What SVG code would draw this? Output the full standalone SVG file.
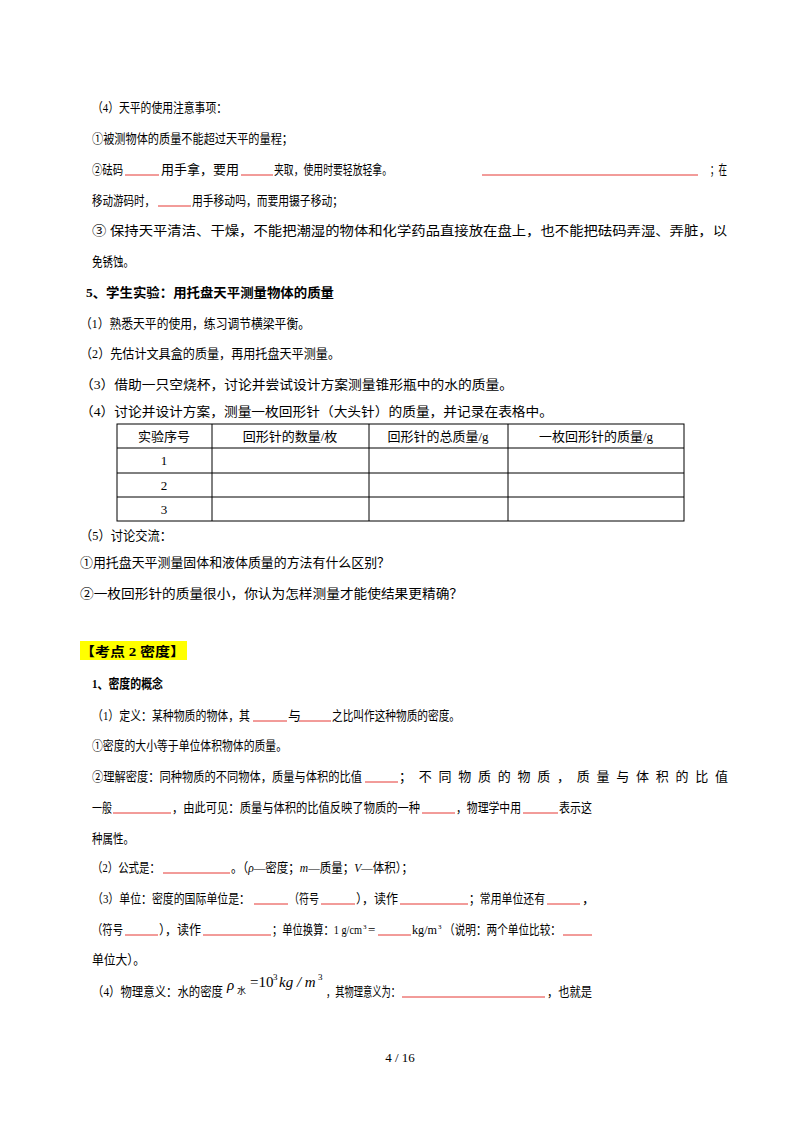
<svg xmlns="http://www.w3.org/2000/svg" width="800" height="1132" viewBox="0 0 800 1132">
<style>
text{font-family:"Liberation Serif","Noto Sans CJK SC",serif;font-size:13px;fill:#000}
.b{font-weight:bold}
.u{stroke:#e53935;stroke-width:1}
.t{stroke:#000;stroke-width:1;fill:none}
.c{text-anchor:middle}
.sup{font-size:7px}
.sup2{font-size:9px}
.fm{font-size:15px}
</style>
<rect width="800" height="1132" fill="#fff"/>
<g id="sec4">
<text x="92" y="112" textLength="135" lengthAdjust="spacingAndGlyphs">（4）天平的使用注意事项：</text>
<text x="92" y="143" textLength="201" lengthAdjust="spacingAndGlyphs">①被测物体的质量不能超过天平的量程；</text>
<text x="92" y="174" textLength="31" lengthAdjust="spacingAndGlyphs">②砝码</text><line class="u" x1="125" y1="175" x2="159" y2="175"/>
<text x="161" y="174" textLength="78" lengthAdjust="spacingAndGlyphs">用手拿，要用</text><line class="u" x1="241" y1="175" x2="273" y2="175"/>
<text x="274" y="174" textLength="118" lengthAdjust="spacingAndGlyphs">夹取，使用时要轻放轻拿。</text><line class="u" x1="482" y1="175" x2="698" y2="175"/>
<text x="710" y="174" textLength="17" lengthAdjust="spacingAndGlyphs">；在</text>
<text x="92" y="205" textLength="63" lengthAdjust="spacingAndGlyphs">移动游码时，</text><line class="u" x1="158" y1="206" x2="191" y2="206"/>
<text x="192" y="205" textLength="151" lengthAdjust="spacingAndGlyphs">用手移动吗，而要用镊子移动；</text>
<text x="92" y="235" textLength="635" lengthAdjust="spacingAndGlyphs">③ 保持天平清洁、干燥，不能把潮湿的物体和化学药品直接放在盘上，也不能把砝码弄湿、弄脏，以</text>
<text x="92" y="266" textLength="42" lengthAdjust="spacingAndGlyphs">免锈蚀。</text>
</g>
<g id="sec5">
<text class="b" x="86" y="297" textLength="248" lengthAdjust="spacingAndGlyphs">5、学生实验：用托盘天平测量物体的质量</text>
<text x="80" y="328" textLength="230" lengthAdjust="spacingAndGlyphs">（1）熟悉天平的使用，练习调节横梁平衡。</text>
<text x="80" y="358" textLength="260" lengthAdjust="spacingAndGlyphs">（2）先估计文具盒的质量，再用托盘天平测量。</text>
<text x="80" y="389" textLength="433" lengthAdjust="spacingAndGlyphs">（3）借助一只空烧杯，讨论并尝试设计方案测量锥形瓶中的水的质量。</text>
<text x="80" y="416" textLength="473" lengthAdjust="spacingAndGlyphs">（4）讨论并设计方案，测量一枚回形针（大头针）的质量，并记录在表格中。</text>
</g>
<g id="table">
<rect class="t" x="117" y="424" width="567" height="97"/>
<line class="t" x1="117" y1="448" x2="684" y2="448"/>
<line class="t" x1="117" y1="473" x2="684" y2="473"/>
<line class="t" x1="117" y1="497" x2="684" y2="497"/>
<line class="t" x1="212" y1="424" x2="212" y2="521"/>
<line class="t" x1="369" y1="424" x2="369" y2="521"/>
<line class="t" x1="508" y1="424" x2="508" y2="521"/>
<text class="c" x="164" y="441">实验序号</text>
<text class="c" x="290" y="441">回形针的数量/枚</text>
<text class="c" x="438" y="441">回形针的总质量/g</text>
<text class="c" x="596" y="441">一枚回形针的质量/g</text>
<text class="c" x="164" y="465">1</text>
<text class="c" x="164" y="490">2</text>
<text class="c" x="164" y="514">3</text>
</g>
<g id="disc">
<text x="80" y="540" textLength="92" lengthAdjust="spacingAndGlyphs">（5）讨论交流：</text>
<text x="80" y="567" textLength="310" lengthAdjust="spacingAndGlyphs">①用托盘天平测量固体和液体质量的方法有什么区别？</text>
<text x="80" y="598" textLength="383" lengthAdjust="spacingAndGlyphs">②一枚回形针的质量很小，你认为怎样测量才能使结果更精确？</text>
</g>
<g id="kd2">
<rect x="80" y="641" width="107" height="19" fill="#ffff00"/>
<text class="b" x="80" y="656" textLength="105" lengthAdjust="spacingAndGlyphs">【考点 2  密度】</text>
<text class="b" x="92" y="688" textLength="71" lengthAdjust="spacingAndGlyphs">1、密度的概念</text>
<text x="92" y="720" textLength="158" lengthAdjust="spacingAndGlyphs">（1）定义：某种物质的物体，其</text><line class="u" x1="253" y1="721" x2="287" y2="721"/>
<text x="288" y="720">与</text><line class="u" x1="299" y1="721" x2="331" y2="721"/>
<text x="332" y="720" textLength="128" lengthAdjust="spacingAndGlyphs">之比叫作这种物质的密度。</text>
<text x="92" y="750" textLength="195" lengthAdjust="spacingAndGlyphs">①密度的大小等于单位体积物体的质量。</text>
<text x="92" y="781" textLength="270" lengthAdjust="spacingAndGlyphs">②理解密度：同种物质的不同物体，质量与体积的比值</text><line class="u" x1="365" y1="782" x2="398" y2="782"/>
<text x="399" y="781" textLength="329" lengthAdjust="spacing">；不同物质的物质，质量与体积的比值</text>
<text x="92" y="812" textLength="20" lengthAdjust="spacingAndGlyphs">一般</text><line class="u" x1="113" y1="813" x2="171" y2="813"/>
<text x="172" y="812" textLength="248" lengthAdjust="spacingAndGlyphs">，由此可见：质量与体积的比值反映了物质的一种</text><line class="u" x1="422" y1="813" x2="455" y2="813"/>
<text x="456" y="812" textLength="65" lengthAdjust="spacingAndGlyphs">，物理学中用</text><line class="u" x1="523" y1="813" x2="558" y2="813"/>
<text x="559" y="812" textLength="33" lengthAdjust="spacingAndGlyphs">表示这</text>
<text x="92" y="843" textLength="42" lengthAdjust="spacingAndGlyphs">种属性。</text>
<text x="92" y="872" textLength="68" lengthAdjust="spacingAndGlyphs">（2）公式是：</text><line class="u" x1="163" y1="873" x2="230" y2="873"/>
<text x="231" y="872" textLength="182" lengthAdjust="spacingAndGlyphs">。（<tspan font-style="italic">ρ</tspan>—密度；<tspan font-style="italic">m</tspan>—质量；<tspan font-style="italic">V</tspan>—体积）；</text>
<text x="92" y="903" textLength="158" lengthAdjust="spacingAndGlyphs">（3）单位：密度的国际单位是：</text><line class="u" x1="254" y1="904" x2="288" y2="904"/>
<text x="289" y="903" textLength="30" lengthAdjust="spacingAndGlyphs">（符号</text><line class="u" x1="321" y1="904" x2="355" y2="904"/>
<text x="356" y="903" textLength="42" lengthAdjust="spacingAndGlyphs">），读作</text><line class="u" x1="400" y1="904" x2="468" y2="904"/>
<text x="469" y="903" textLength="76" lengthAdjust="spacingAndGlyphs">；常用单位还有</text><line class="u" x1="547" y1="904" x2="580" y2="904"/>
<text x="582" y="903">，</text>
<text x="92" y="934" textLength="31" lengthAdjust="spacingAndGlyphs">（符号</text><line class="u" x1="125" y1="935" x2="158" y2="935"/>
<text x="159" y="934" textLength="42" lengthAdjust="spacingAndGlyphs">），读作</text><line class="u" x1="203" y1="935" x2="271" y2="935"/>
<text x="272" y="934" textLength="90" lengthAdjust="spacingAndGlyphs">；单位换算：1 g/cm</text>
<text class="sup" x="363" y="929">3</text>
<text x="368" y="934">=</text><line class="u" x1="378" y1="935" x2="411" y2="935"/>
<text x="412" y="934" textLength="25" lengthAdjust="spacingAndGlyphs">kg/m</text>
<text class="sup" x="438" y="929">3</text>
<text x="444" y="934" textLength="117" lengthAdjust="spacingAndGlyphs">（说明：两个单位比较：</text><line class="u" x1="563" y1="935" x2="592" y2="935"/>
<text x="92" y="964" textLength="53" lengthAdjust="spacingAndGlyphs">单位大）。</text>
<text x="92" y="996" textLength="131" lengthAdjust="spacingAndGlyphs">（4）物理意义：水的密度</text>
<text class="fm" x="227" y="990" font-style="italic">ρ</text>
<text class="sup2" x="237" y="994">水</text>
<text class="fm" x="250" y="987">=10</text>
<text class="sup2" x="273" y="980">3</text>
<text class="fm" x="279" y="987" font-style="italic">kg / m</text>
<text class="sup2" x="318" y="980">3</text>
<text x="326" y="996" textLength="74" lengthAdjust="spacingAndGlyphs">，其物理意义为：</text><line class="u" x1="402" y1="997" x2="545" y2="997"/>
<text x="547" y="996" textLength="45" lengthAdjust="spacingAndGlyphs">，也就是</text>
</g>
<text class="c" x="400" y="1062">4  /  16</text>
</svg>
